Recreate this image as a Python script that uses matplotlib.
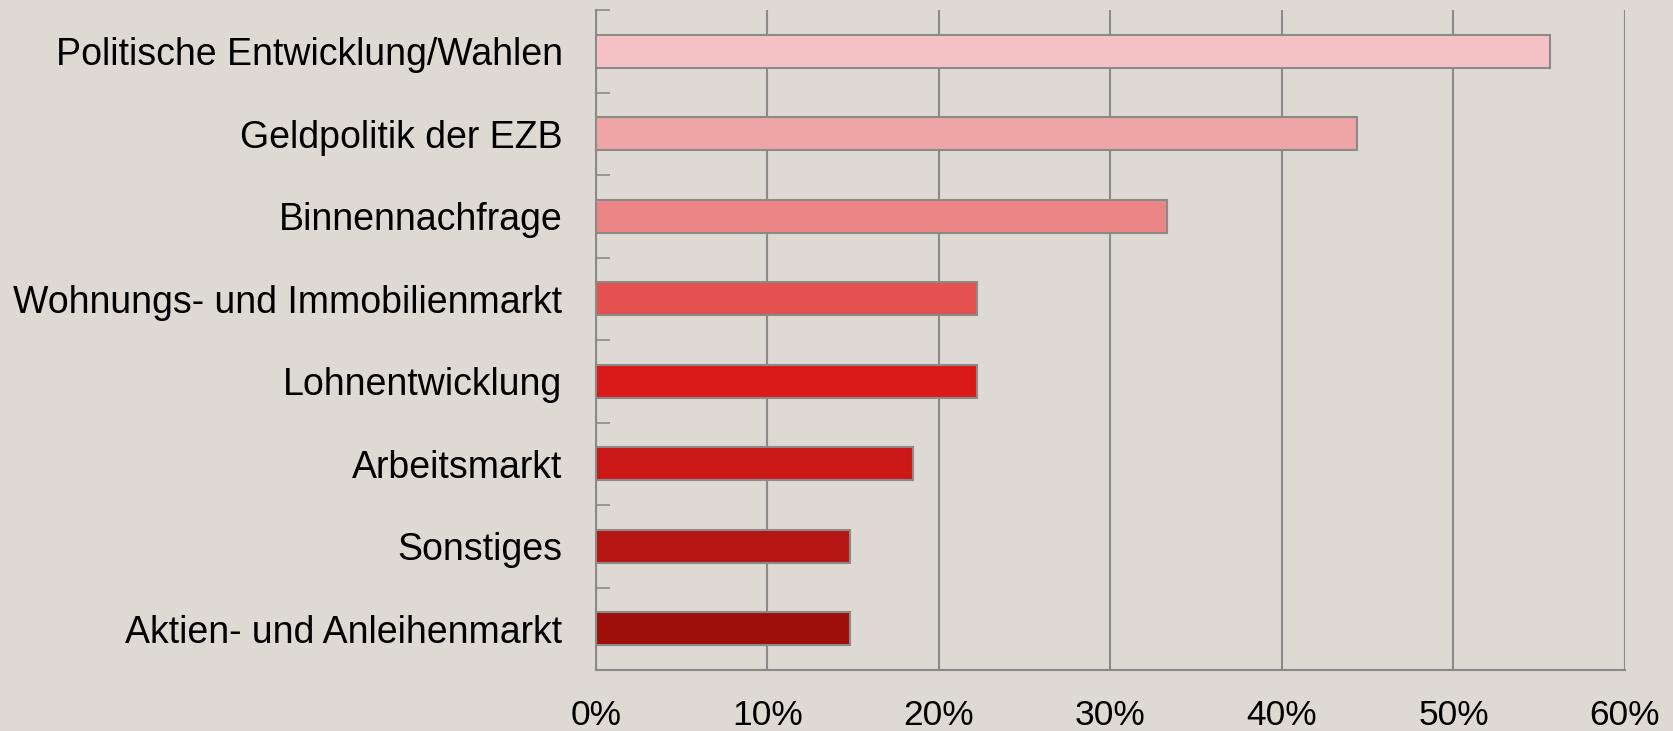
import numpy as np
import matplotlib.pyplot as plt
from matplotlib.ticker import FuncFormatter

categories = ['Politische Entwicklung/Wahlen', 'Geldpolitik der EZB', 'Binnennachfrage',
              'Wohnungs- und Immobilienmarkt', 'Lohnentwicklung', 'Arbeitsmarkt',
              'Sonstiges', 'Aktien- und Anleihenmarkt']
values = [55.6, 44.4, 33.3, 22.2, 22.2, 18.5, 14.8, 14.8]
colors = ['#F4C2C4', '#EFA5A6', '#EB8585', '#E35151', '#DA1A18', '#C91816', '#B51513', '#9E0F0C']

plt.rcParams['font.family'] = ['Liberation Sans', 'DejaVu Sans']
bg = '#DFD9D3'
grey = '#8A8A8A'

fig = plt.figure(figsize=(16.73, 7.31), dpi=100, facecolor=bg)
ax = fig.add_axes([0.3562, 0.0834, 0.9713 - 0.3562, 0.9863 - 0.0834])
ax.set_facecolor(bg)

y = np.arange(len(categories))
ax.barh(y, values, height=0.4, color=colors, edgecolor=grey, linewidth=1.5, zorder=3)

ax.set_xlim(0, 60)
ax.set_ylim(len(categories) - 0.5, -0.5)
ax.set_xticks(np.arange(0, 61, 10))
ax.xaxis.set_major_formatter(FuncFormatter(lambda v, p: '%d%%' % v))
ax.tick_params(axis='x', length=0, pad=21, labelsize=25.5)
ax.grid(axis='x', color=grey, linewidth=1.5, zorder=0)

# 类别标签
ax.set_yticks(y)
ax.set_yticklabels(categories)
ax.tick_params(axis='y', which='major', length=0, pad=24, labelsize=27)
ax.set_yticks(np.arange(len(categories) + 1) - 0.5, minor=True)
ax.tick_params(axis='y', which='minor', direction='in', length=10, width=1.2, color=grey)

for s in ['top', 'right']:
    ax.spines[s].set_visible(False)
for s in ['left', 'bottom']:
    ax.spines[s].set_color(grey)
    ax.spines[s].set_linewidth(1.5)

fig.savefig('out.png', dpi=100, facecolor=bg)
